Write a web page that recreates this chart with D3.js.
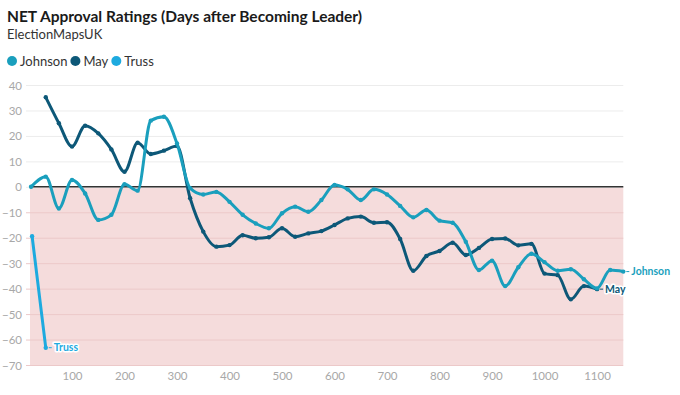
<!DOCTYPE html>
<html lang="en">
<head>
  <meta charset="UTF-8">
  <title>NET Approval Ratings</title>
  <script src="https://cdnjs.cloudflare.com/ajax/libs/d3/7.8.5/d3.min.js"></script>
  <style>
    body { margin: 0; background: #fff; font-family: Lato, "Noto Sans", sans-serif; }
    .tick text { fill: #a8a8a8; font-size: 11.5px; font-family: Lato, sans-serif; }
    .lbl { font-weight: bold; font-size: 10.5px; paint-order: stroke; stroke: #fff; stroke-width: 3px; stroke-linejoin: round; }
  </style>
</head>
<body>
  <svg width="680" height="395"></svg>
  <script>
    // days after becoming leader
    var johnsonDays = [22, 50, 75, 100, 125, 150, 175, 200, 225, 250, 275, 300, 325, 350, 375, 400, 425, 450, 475, 500,
      525, 550, 575, 600, 625, 650, 675, 700, 725, 750, 775, 800, 825, 850, 875, 900, 925, 950, 975, 1000,
      1025, 1050, 1075, 1100, 1125, 1150]
    var johnsonNet = [0, 4, -8.5, 2.7, -2.6, -13, -11, 1, -1.5, 26, 27.5, 17, -0.5, -3, -2, -5.9, -11, -14.4, -16.3, -10.4,
      -7.8, -9.8, -5.2, 0.7, -1, -5.2, -1, -3, -7.5, -12, -9.1, -13.3, -14.1, -21.6, -32.7, -29, -39, -31.6, -26.3, -29.6,
      -33, -32.4, -36.3, -39.9, -32.7, -33.3]

    var mayDays = [50, 75, 100, 125, 150, 175, 200, 225, 250, 275, 300, 325, 350, 375, 400, 425, 450, 475, 500,
      525, 550, 575, 600, 625, 650, 675, 700, 725, 750, 775, 800, 825, 850, 875, 900, 925, 950, 975, 1000,
      1025, 1050, 1075, 1100]
    var mayNet = [35.2, 25, 15.8, 24, 21, 14.7, 5.9, 17.3, 12.9, 14.2, 16, -4.5, -17.6, -23.5, -22.9, -19, -20.2, -19.8, -16.3,
      -19.6, -18.3, -17.4, -15, -12.4, -11.7, -14.1, -13.9, -20.5, -33, -27.2, -25.2, -22, -26.8, -24, -20.5, -20.3, -23, -22.4, -34.1,
      -34.7, -44.2, -39, -40.2]

    var trussDays = [24, 50]
    var trussNet = [-19.4, -63.2]

    var xTicks = [100, 200, 300, 400, 500, 600, 700, 800, 900, 1000, 1100]
    var yTicks = [40, 30, 20, 10, 0, -10, -20, -30, -40, -50, -60, -70]

    var leaders = [
      { name: 'Johnson', color: '#1a9fbd', days: johnsonDays, net: johnsonNet },
      { name: 'May', color: '#0d5878', days: mayDays, net: mayNet },
      { name: 'Truss', color: '#1eaadf', days: trussDays, net: trussNet }
    ]

    var svg = d3.select('svg')
    var x = d3.scaleLinear().domain([20, 1150]).range([30, 623.3])
    var y = d3.scaleLinear().domain([-70, 40]).range([365, 85])

    // header
    svg.append('text').attr('x', 7).attr('y', 22)
      .attr('font-size', '15.5px').attr('font-weight', 'bold').attr('fill', '#1a1a1a')
      .text('NET Approval Ratings (Days after Becoming Leader)')
    svg.append('text').attr('x', 7).attr('y', 39)
      .attr('font-size', '13px').attr('fill', '#333')
      .text('ElectionMapsUK')

    // legend
    var lx = 7
    leaders.forEach(function (l) {
      svg.append('circle').attr('cx', lx + 5).attr('cy', 61).attr('r', 5).attr('fill', l.color)
      var t = svg.append('text').attr('x', lx + 13).attr('y', 65.5)
        .attr('font-size', '13px').attr('fill', '#333').text(l.name)
      lx += 13 + t.node().getComputedTextLength() + 3
    })

    // negative area
    svg.append('rect')
      .attr('x', x(20)).attr('y', y(0))
      .attr('width', x(1150) - x(20)).attr('height', y(-70) - y(0))
      .attr('fill', '#f5dcdc')

    // y grid + labels
    var yAxis = svg.append('g').attr('transform', 'translate(' + x(1150) + ',0)')
      .call(d3.axisLeft(y).tickValues(yTicks).tickSize(x(1150) - x(20) + 4).tickPadding(4))
    yAxis.select('.domain').remove()
    yAxis.selectAll('.tick line').attr('stroke', function (d) { return d < 0 ? '#ecc9c9' : '#ececec' })
    yAxis.selectAll('.tick text').attr('dy', '0.35em')

    // x labels
    var xAxis = svg.append('g').attr('transform', 'translate(0,' + y(-70) + ')')
      .call(d3.axisBottom(x).tickValues(xTicks).tickFormat(d3.format('d')).tickSize(0).tickPadding(7))
    xAxis.select('.domain').remove()

    // zero line
    svg.append('line').attr('x1', x(20)).attr('x2', x(1150))
      .attr('y1', y(0)).attr('y2', y(0)).attr('stroke', '#333').attr('stroke-width', 1.5)

    var line = d3.line()
      .x(function (d) { return x(d[0]) })
      .y(function (d) { return y(d[1]) })
      .curve(d3.curveMonotoneX)

    leaders.slice().reverse().forEach(function (l) {
      var pts = l.days.map(function (d, i) { return [d, l.net[i]] })
      svg.append('path').datum(pts).attr('d', line)
        .attr('fill', 'none').attr('stroke', l.color).attr('stroke-width', 3)
        .attr('stroke-linejoin', 'round').attr('stroke-linecap', 'round')
      svg.append('g').selectAll('circle').data(pts).join('circle')
        .attr('cx', function (d) { return x(d[0]) })
        .attr('cy', function (d) { return y(d[1]) })
        .attr('r', 2.2).attr('fill', l.color)

      // end label
      var last = pts[pts.length - 1]
      var lxp = x(last[0]), lyp = y(last[1])
      svg.append('line').attr('x1', lxp + 3).attr('x2', lxp + 6)
        .attr('y1', lyp).attr('y2', lyp).attr('stroke', l.color).attr('stroke-width', 1)
      svg.append('text').attr('class', 'lbl')
        .attr('x', lxp + 8).attr('y', lyp).attr('dy', '0.35em')
        .attr('fill', l.color).text(l.name)
    })
  </script>
</body>
</html>
